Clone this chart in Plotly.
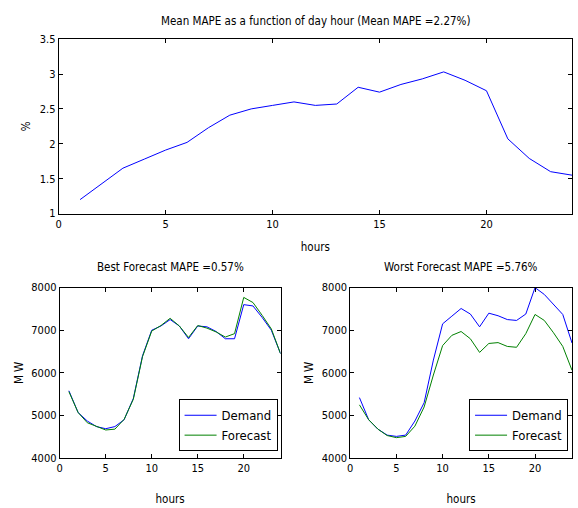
import plotly.graph_objects as go

hours = list(range(1, 25))
mape_by_hour = [1.20, 1.42, 1.65, 1.78, 1.91, 2.02, 2.23, 2.41, 2.50, 2.55, 2.60, 2.55,
                2.57, 2.81, 2.74, 2.85, 2.93, 3.03, 2.91, 2.76, 2.07, 1.79, 1.60, 1.55]
best_demand = [5580, 5070, 4870, 4740, 4690, 4740, 4900, 5400, 6400, 7000, 7100, 7250,
               7100, 6800, 7100, 7080, 6970, 6800, 6800, 7600, 7570, 7300, 7000, 6450]
best_forecast = [5560, 5070, 4830, 4740, 4660, 4680, 4910, 5380, 6380, 6980, 7110, 7280,
                 7100, 6830, 7110, 7050, 6960, 6840, 6920, 7770, 7650, 7350, 7030, 6450]
worst_demand = [5420, 4900, 4680, 4540, 4510, 4540, 4870, 5300, 6300, 7150, 7330, 7510,
                7380, 7080, 7400, 7340, 7250, 7230, 7380, 8000, 7840, 7600, 7370, 6700]
worst_forecast = [5250, 4900, 4680, 4530, 4480, 4510, 4750, 5200, 5950, 6640, 6880, 6970,
                  6800, 6480, 6690, 6710, 6620, 6600, 6920, 7370, 7230, 6940, 6620, 6060]

FONT = "DejaVu Sans Condensed, Liberation Sans Narrow, Liberation Sans, Arial, sans-serif"
FS = 11
TS = 11.5
BLUE = "#0000ff"
GREEN = "#008000"

fig = go.Figure()
fig.add_trace(go.Scatter(x=hours, y=mape_by_hour, mode="lines", line=dict(color=BLUE, width=1),
                         showlegend=False, xaxis="x", yaxis="y"))
fig.add_trace(go.Scatter(x=hours, y=best_demand, mode="lines", name="Demand", legendgroup="bd",
                         line=dict(color=BLUE, width=1), xaxis="x2", yaxis="y2", legend="legend"))
fig.add_trace(go.Scatter(x=hours, y=best_forecast, mode="lines", name="Forecast", legendgroup="bf",
                         line=dict(color=GREEN, width=1), xaxis="x2", yaxis="y2", legend="legend"))
fig.add_trace(go.Scatter(x=hours, y=worst_demand, mode="lines", name="Demand", legendgroup="wd",
                         line=dict(color=BLUE, width=1), xaxis="x3", yaxis="y3", legend="legend2"))
fig.add_trace(go.Scatter(x=hours, y=worst_forecast, mode="lines", name="Forecast", legendgroup="wf",
                         line=dict(color=GREEN, width=1), xaxis="x3", yaxis="y3", legend="legend2"))

ax_common = dict(showline=True, linecolor="black", linewidth=1, mirror="ticks", ticks="inside",
                 ticklen=4, tickcolor="black", showgrid=False, zeroline=False,
                 tickfont=dict(family=FONT, size=FS, color="black"))

leg_common = dict(xanchor="right", yanchor="bottom", bgcolor="white", bordercolor="black",
                  borderwidth=1, font=dict(family=FONT, size=13), itemwidth=32, tracegroupgap=0)

fig.update_layout(
    width=578, height=508, margin=dict(l=0, r=0, t=0, b=0),
    paper_bgcolor="white", plot_bgcolor="white",
    font=dict(family=FONT, size=FS, color="black"),
    xaxis=dict(domain=[0.0969, 0.9896], range=[0, 24], tickvals=[0, 5, 10, 15, 20], anchor="y",
               title=dict(text="hours", standoff=13, font=dict(size=TS)), **ax_common),
    yaxis=dict(domain=[0.5807, 0.9331], range=[1, 3.5], tickvals=[1, 1.5, 2, 2.5, 3, 3.5], anchor="x",
               title=dict(text="%", standoff=6, font=dict(size=TS)), **ax_common),
    xaxis2=dict(domain=[0.0986, 0.4827], range=[0, 24], tickvals=[0, 5, 10, 15, 20], anchor="y2",
                title=dict(text="hours", standoff=20, font=dict(size=TS)), **ax_common),
    yaxis2=dict(domain=[0.0866, 0.4311], range=[4000, 8000], tickvals=[4000, 5000, 6000, 7000, 8000],
                anchor="x2", title=dict(text="M W", standoff=5, font=dict(size=TS)), **ax_common),
    xaxis3=dict(domain=[0.6038, 0.9896], range=[0, 24], tickvals=[0, 5, 10, 15, 20], anchor="y3",
                title=dict(text="hours", standoff=20, font=dict(size=TS)), **ax_common),
    yaxis3=dict(domain=[0.0866, 0.4311], range=[4000, 8000], tickvals=[4000, 5000, 6000, 7000, 8000],
                anchor="x3", title=dict(text="M W", standoff=5, font=dict(size=TS)), **ax_common),
    legend=dict(x=0.4775, y=0.1004, **leg_common),
    legend2=dict(x=0.9827, y=0.1004, **leg_common),
    annotations=[
        dict(text="Mean MAPE as a function of day hour (Mean MAPE =2.27%)", x=0.5433, y=1 - 15 / 508,
             xref="paper", yref="paper", xanchor="center", yanchor="middle", showarrow=False,
             font=dict(family=FONT, size=TS)),
        dict(text="Best Forecast MAPE =0.57%", x=0.2907, y=1 - 268 / 508,
             xref="paper", yref="paper", xanchor="center", yanchor="middle", showarrow=False,
             font=dict(family=FONT, size=TS)),
        dict(text="Worst Forecast MAPE =5.76%", x=0.7967, y=1 - 268 / 508,
             xref="paper", yref="paper", xanchor="center", yanchor="middle", showarrow=False,
             font=dict(family=FONT, size=TS)),
    ],
)

fig.write_html("out.html")
